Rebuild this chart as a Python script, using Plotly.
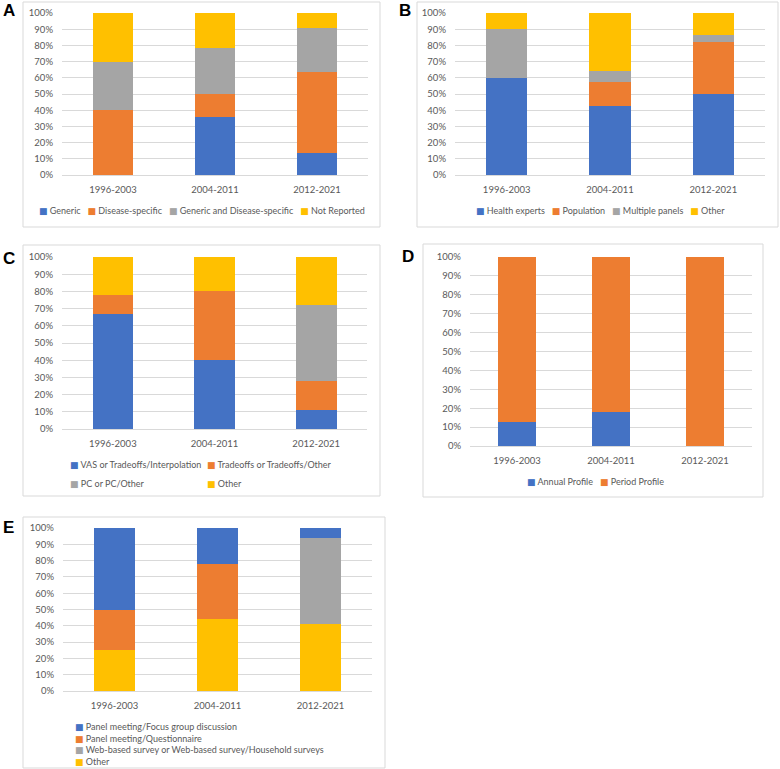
"""Stacked percentage bars for five study-characteristic panels (A-E)."""

import plotly.graph_objects as go

W, H = 780, 769

PERIODS = ["1996-2003", "2004-2011", "2012-2021"]

BLUE = "#4472C4"
ORANGE = "#ED7D31"
GRAY = "#A5A5A5"
YELLOW = "#FFC000"
GRID = "#D9D9D9"
TEXT = "#595959"
FONT = "Lato, DejaVu Sans, sans-serif"
FS = 9

# Panel A - instrument type
A_GENERIC = [0.0, 35.7, 13.6]
A_DISEASE = [40.0, 14.3, 50.0]
A_BOTH = [30.0, 28.6, 27.3]
A_NOT_REPORTED = [30.0, 21.4, 9.1]

# Panel B - respondents
B_EXPERTS = [60.0, 42.9, 50.0]
B_POPULATION = [0.0, 14.3, 31.8]
B_MULTIPLE = [30.0, 7.1, 4.5]
B_OTHER = [10.0, 35.7, 13.7]

# Panel C - valuation method
C_VAS = [66.7, 40.0, 11.1]
C_TRADEOFFS = [11.1, 40.0, 16.7]
C_PC = [0.0, 0.0, 44.4]
C_OTHER = [22.2, 20.0, 27.8]

# Panel D - profile type
D_ANNUAL = [12.5, 18.2, 0.0]
D_PERIOD = [87.5, 81.8, 100.0]

# Panel E - elicitation mode (stacked bottom-up: Other, Web, Questionnaire, Focus group)
E_FOCUS = [50.0, 22.2, 5.9]
E_QUESTIONNAIRE = [25.0, 33.4, 0.0]
E_WEB = [0.0, 0.0, 52.9]
E_OTHER = [25.0, 44.4, 41.2]

PANELS = {
    # key: (axis suffix, plot box px (x0, x1, ytop, ybottom), frame px (x0, x1, y0, y1))
    "A": ("", (62, 368, 13, 175), (23, 380, 2, 227)),
    "B": ("2", (455, 765, 13, 175), (417, 778, 2, 227)),
    "C": ("3", (62, 367, 257, 429), (23, 380, 245, 496)),
    "D": ("4", (470, 752, 257, 446), (423, 763, 244, 497)),
    "E": ("5", (63, 372, 528, 691), (23, 385, 517, 768)),
}

SERIES = {
    "A": [("Generic", A_GENERIC, BLUE), ("Disease-specific", A_DISEASE, ORANGE),
          ("Generic and Disease-specific", A_BOTH, GRAY), ("Not Reported", A_NOT_REPORTED, YELLOW)],
    "B": [("Health experts", B_EXPERTS, BLUE), ("Population", B_POPULATION, ORANGE),
          ("Multiple panels", B_MULTIPLE, GRAY), ("Other", B_OTHER, YELLOW)],
    "C": [("VAS or Tradeoffs/Interpolation", C_VAS, BLUE), ("Tradeoffs or Tradeoffs/Other", C_TRADEOFFS, ORANGE),
          ("PC or PC/Other", C_PC, GRAY), ("Other", C_OTHER, YELLOW)],
    "D": [("Annual Profile", D_ANNUAL, BLUE), ("Period Profile", D_PERIOD, ORANGE)],
    "E": [("Other", E_OTHER, YELLOW), ("Web-based survey or Web-based survey/Household surveys", E_WEB, GRAY),
          ("Panel meeting/Questionnaire", E_QUESTIONNAIRE, ORANGE),
          ("Panel meeting/Focus group discussion", E_FOCUS, BLUE)],
}

# legend rows: (entries [(label, colour)], x px, y px, xanchor)
LEGEND_ROWS = {
    "A": [([("Generic", BLUE), ("Disease-specific", ORANGE),
            ("Generic and Disease-specific", GRAY), ("Not Reported", YELLOW)], 202, 210, "center")],
    "B": [([("Health experts", BLUE), ("Population", ORANGE),
            ("Multiple panels", GRAY), ("Other", YELLOW)], 600, 210, "center")],
    "C": [([("VAS or Tradeoffs/Interpolation", BLUE)], 68, 464, "left"),
          ([("Tradeoffs or Tradeoffs/Other", ORANGE)], 205, 464, "left"),
          ([("PC or PC/Other", GRAY)], 68, 483, "left"),
          ([("Other", YELLOW)], 205, 483, "left")],
    "D": [([("Annual Profile", BLUE), ("Period Profile", ORANGE)], 595, 481, "center")],
    "E": [([("Panel meeting/Focus group discussion", BLUE)], 73, 726, "left"),
          ([("Panel meeting/Questionnaire", ORANGE)], 73, 738, "left"),
          ([("Web-based survey or Web-based survey/Household surveys", GRAY)], 73, 749, "left"),
          ([("Other", YELLOW)], 73, 761, "left")],
}

LETTER_POS = {"A": (1, 10), "B": (397, 10), "C": (1, 258), "D": (400, 256), "E": (1, 527)}

GAP = "\u00a0" * 3


def px_x(x):
    return x / W


def px_y(y):
    return 1 - y / H


def legend_text(entries):
    return GAP.join(f"<span style='color:{c}'>■</span>\u00a0{label}" for label, c in entries)


fig = go.Figure()
layout = {}
shapes = []
annotations = []

for key, (suffix, (x0, x1, yt, yb), (fx0, fx1, fy0, fy1)) in PANELS.items():
    for name, values, color in SERIES[key]:
        fig.add_trace(go.Bar(x=PERIODS, y=values, name=name, marker_color=color,
                             marker_line_width=0, xaxis="x" + suffix, yaxis="y" + suffix,
                             showlegend=False))
    layout["xaxis" + suffix] = dict(
        domain=[px_x(x0), px_x(x1)], anchor="y" + suffix, type="category",
        showgrid=False, showline=False, ticks="", ticklabelstandoff=7, automargin=False,
        tickfont=dict(family=FONT, size=9.5, color=TEXT), fixedrange=True,
    )
    layout["yaxis" + suffix] = dict(
        domain=[px_y(yb), px_y(yt)], anchor="x" + suffix, range=[0, 100], dtick=10,
        ticksuffix="%", showgrid=True, gridcolor=GRID, gridwidth=1, zeroline=True,
        zerolinecolor=GRID, zerolinewidth=1, showline=False, ticks="", automargin=False,
        ticklabelstandoff=8, tickfont=dict(family=FONT, size=9.5, color=TEXT), fixedrange=True,
    )
    shapes.append(dict(type="rect", xref="paper", yref="paper",
                       x0=px_x(fx0), x1=px_x(fx1), y0=px_y(fy1), y1=px_y(fy0),
                       line=dict(color=GRID, width=1), fillcolor="rgba(0,0,0,0)", layer="below"))
    for entries, lx, ly, anchor in LEGEND_ROWS[key]:
        annotations.append(dict(
            xref="paper", yref="paper", x=px_x(lx), y=px_y(ly), xanchor=anchor, yanchor="middle",
            text=legend_text(entries), showarrow=False,
            font=dict(family=FONT, size=FS, color=TEXT),
        ))
    lx, ly = LETTER_POS[key]
    annotations.append(dict(
        xref="paper", yref="paper", x=px_x(lx), y=px_y(ly), xanchor="left", yanchor="middle",
        text=f"<b>{key}</b>", showarrow=False,
        font=dict(family="Liberation Sans, Arial, sans-serif", size=17, color="black"),
    ))

fig.update_layout(
    width=W, height=H, autosize=False,
    margin=dict(l=0, r=0, t=0, b=0, pad=0),
    paper_bgcolor="white", plot_bgcolor="white",
    barmode="stack", bargap=0.6,
    shapes=shapes, annotations=annotations,
    **layout,
)

# drop the browser's default 8px body margin so the figure sits at the page origin
fig.write_html("out.html", config={"displayModeBar": False},
               post_script="document.body.style.margin='0';")
